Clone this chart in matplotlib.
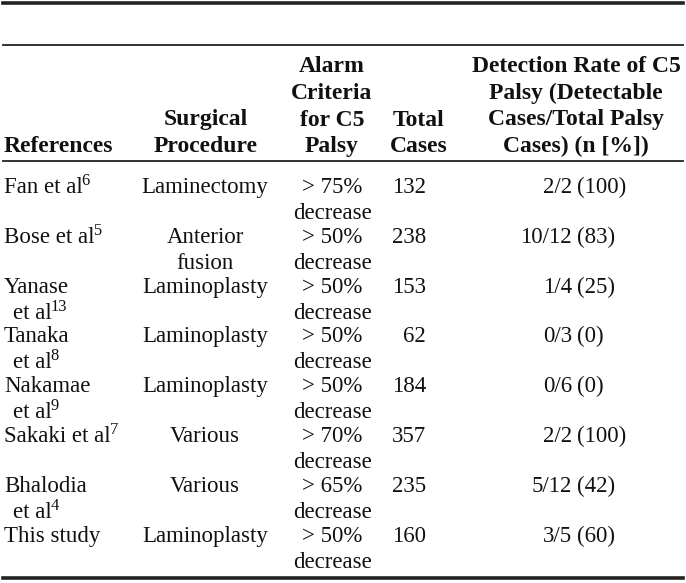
import matplotlib.pyplot as plt
from matplotlib.lines import Line2D

plt.rcParams['font.family'] = ['Liberation Serif', 'DejaVu Serif']

# table content
headers = [["References"],
           ["Surgical", "Procedure"],
           ["Alarm", "Criteria", "for C5", "Palsy"],
           ["Total", "Cases"],
           ["Detection Rate of C5", "Palsy (Detectable", "Cases/Total Palsy", "Cases) (n [%])"]]
references = [["Fan et al"], ["Bose et al"], ["Yanase", "et al"], ["Tanaka", "et al"],
              ["Nakamae", "et al"], ["Sakaki et al"], ["Bhalodia", "et al"], ["This study"]]
citations = ["6", "5", "13", "8", "9", "7", "4", ""]
procedures = [["Laminectomy"], ["Anterior", "fusion"], ["Laminoplasty"], ["Laminoplasty"],
              ["Laminoplasty"], ["Various"], ["Various"], ["Laminoplasty"]]
thresholds = ["75", "50", "50", "50", "50", "70", "65", "50"]
total_cases = [132, 238, 153, 62, 184, 357, 235, 160]
detectable = ["2/2", "10/12", "1/4", "0/3", "0/6", "2/2", "5/12", "3/5"]
rate_pct = [100, 83, 25, 0, 0, 100, 42, 60]

W, H = 686, 583
fig = plt.figure(figsize=(W / 100, H / 100), dpi=100)
renderer = fig.canvas.get_renderer()
ink = '#111111'


def fx(px):
    return px / W


def fy(py):
    return 1 - py / H


def hline(py, lw):
    fig.add_artist(Line2D([fx(3), fx(683)], [fy(py), fy(py)], color='#222222', lw=lw))


def put(x, y, s, ha='left', **kw):
    return fig.text(fx(x), fy(y), s, ha=ha, va='baseline', color=ink, **kw)


hline(3, 2.6)
hline(45, 1.3)
hline(161, 1.3)
hline(578, 2.6)

hfs, fs = 17, 16.5
hgap = 26.5
# header, bottom-aligned lines
hx = [4, 206, 332, 419, 576]
ha = ['left', 'center', 'center', 'center', 'center']
for lines, x, a in zip(headers, hx, ha):
    n = len(lines)
    for k, s in enumerate(lines):
        put(x, 152 - (n - 1 - k) * hgap, s, ha=a, fontsize=hfs, fontweight='bold')

row0, step, gap = 193, 49.8, 26
for i in range(len(references)):
    y = row0 + i * step
    last = None
    for k, s in enumerate(references[i]):
        last = put(4 if k == 0 else 13, y + k * gap, s, fontsize=fs)
    if citations[i]:
        bb = last.get_window_extent(renderer)
        yl = y + (len(references[i]) - 1) * gap
        put(bb.x1 - 1, yl - 8, citations[i], fontsize=fs * 0.72)
    for k, s in enumerate(procedures[i]):
        put(205, y + k * gap, s, ha='center', fontsize=fs)
    put(332, y, "> " + thresholds[i] + "%", ha='center', fontsize=fs)
    put(332, y + gap, "decrease", ha='center', fontsize=fs)
    put(426, y, str(total_cases[i]), ha='right', fontsize=fs)
    put(572, y, detectable[i], ha='right', fontsize=fs)
    put(577, y, "(" + str(rate_pct[i]) + ")", fontsize=fs)

fig.savefig('out.png', dpi=100)
